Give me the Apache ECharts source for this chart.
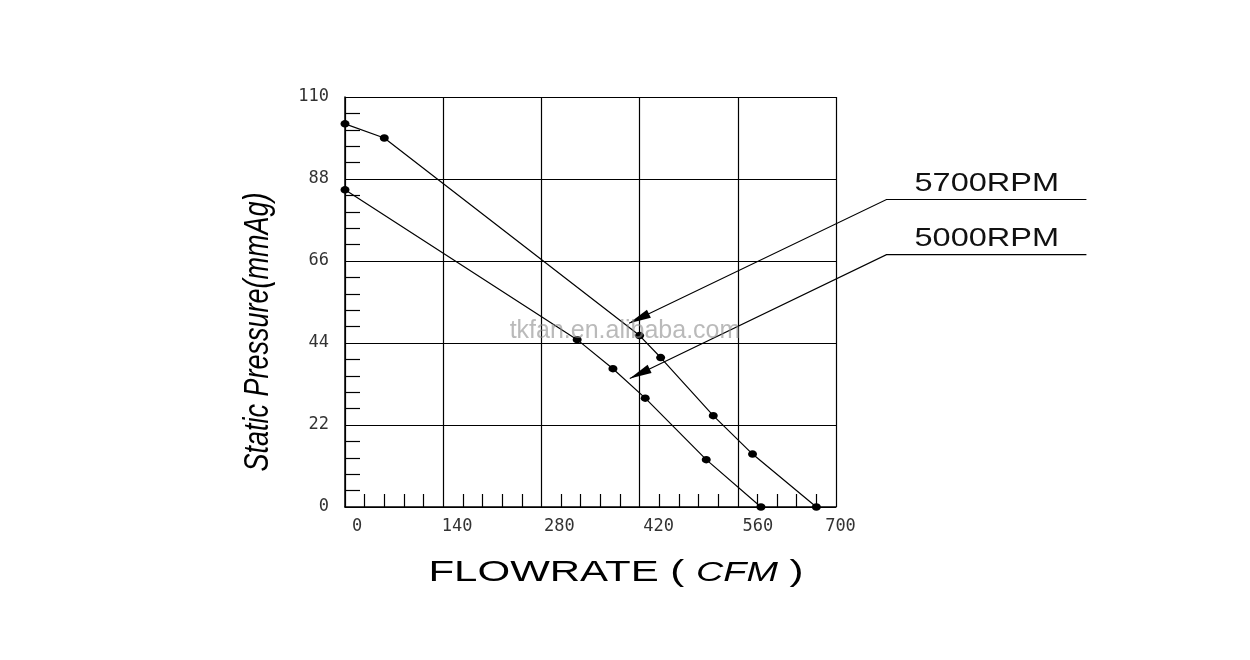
<!DOCTYPE html>
<html><head><meta charset="utf-8">
<script src="https://cdn.jsdelivr.net/npm/echarts@6/dist/echarts.min.js"></script>
<style>html,body{margin:0;padding:0;background:#fff}#c{width:1250px;height:660px}</style>
</head><body><div id="c"></div>
<script>
// ---- data ----
const xTicks = [0, 140, 280, 420, 560, 700];
const yTicks = [0, 22, 44, 66, 88, 110];
const seriesNames = ['5700RPM', '5000RPM'];
const rpm5700Flow = [0, 56, 420, 450, 525, 581, 672];
const rpm5700Pressure = [102.8, 99.0, 46.0, 40.1, 24.5, 14.2, 0];
const rpm5000Flow = [0, 331, 382, 428, 515, 593];
const rpm5000Pressure = [85.1, 44.9, 37.1, 29.2, 12.7, 0];
// annotation leader anchors in data units: tip, elbow, end
const ann5700 = [[405, 49.3], [772, 82.5], [1057, 82.5]];
const ann5000 = [[406, 34.5], [772, 67.7], [1057, 67.7]];
const xTitle = 'FLOWRATE';
const xUnit = 'CFM';
const yTitle = 'Static Pressure(mmAg)';
const watermark = 'tkfan.en.alibaba.com';

// ---- style ----
const labelShift = {0: 24, 140: 28, 280: 36, 420: 38, 560: 40, 700: 9};
const tickFont = {fontFamily: 'DejaVu Sans Mono', fontSize: 17, color: '#333'};
const xRich = {};
xTicks.forEach(v => { xRich['t' + v] = Object.assign({padding: [0, 0, 0, labelShift[v]]}, tickFont); });

const zip = (a, b) => a.map((v, i) => [v, b[i]]);
const chart = echarts.init(document.getElementById('c'), null, {renderer: 'canvas'});

const lineSeries = (name, data) => ({
  name, type: 'line', data, clip: false, z: 5,
  symbol: 'circle', symbolSize: [9, 7.5], showSymbol: true,
  lineStyle: {color: '#000', width: 1.2},
  itemStyle: {color: '#000'},
  emphasis: {disabled: true}
});

chart.setOption({
  animation: false,
  backgroundColor: '#fff',
  grid: {left: 345, top: 97, width: 491, height: 410, show: false},
  xAxis: {
    type: 'value', min: xTicks[0], max: xTicks[xTicks.length - 1], interval: 140,
    axisLine: {show: true, onZero: false, lineStyle: {color: '#000', width: 1.5}},
    axisTick: {show: false, inside: true},
    minorTick: {show: true, splitNumber: 5, length: 13, lineStyle: {color: '#000', width: 1.2}},
    splitLine: {show: true, lineStyle: {color: '#000', width: 1.2}},
    axisLabel: {margin: 11, formatter: v => '{t' + v + '|' + v + '}', rich: xRich},
  },
  yAxis: {
    type: 'value', min: yTicks[0], max: yTicks[yTicks.length - 1], interval: 22,
    axisLine: {show: true, lineStyle: {color: '#000', width: 1.5}},
    axisTick: {show: false, inside: true},
    minorTick: {show: true, splitNumber: 5, length: 15, lineStyle: {color: '#000', width: 1.2}},
    splitLine: {show: true, lineStyle: {color: '#000', width: 1.2}},
    axisLabel: Object.assign({margin: 16}, tickFont),
  },
  series: [
    lineSeries(seriesNames[0], zip(rpm5700Flow, rpm5700Pressure)),
    lineSeries(seriesNames[1], zip(rpm5000Flow, rpm5000Pressure))
  ]
});

function px(p) { return chart.convertToPixel({gridIndex: 0}, p); }
function annotation(anchors, label) {
  const [tip, elbow, end] = anchors.map(px);
  const dx = tip[0] - elbow[0], dy = tip[1] - elbow[1];
  const len = Math.hypot(dx, dy), ux = dx / len, uy = dy / len;
  const L = 22, W = 4.5;
  const bx = tip[0] - L * ux, by = tip[1] - L * uy;
  return [
    {type: 'polyline', z: 50, shape: {points: [tip, elbow, end]}, style: {stroke: '#000', lineWidth: 1.1, fill: null}},
    {type: 'polygon', z: 51, shape: {points: [tip, [bx - W * uy, by + W * ux], [bx + W * uy, by - W * ux]]}, style: {fill: '#000'}},
    {type: 'text', z: 52, x: elbow[0] + 28, y: elbow[1] - 3, scaleX: 1.3,
      style: {text: label, font: '25px "Liberation Sans"', fill: '#111', align: 'left', verticalAlign: 'bottom'}}
  ];
}

chart.setOption({
  graphic: [
    ...annotation(ann5700, seriesNames[0]),
    ...annotation(ann5000, seriesNames[1]),
    {type: 'text', z: 60, x: 616, y: 573, scaleX: 1.4,
      style: {text: '{n|' + xTitle + ' ( }{i|' + xUnit + '}{n| )}', align: 'center', verticalAlign: 'middle', fill: '#000',
        rich: {n: {font: '30px "Liberation Sans"', fill: '#000'}, i: {font: 'italic 27px "Liberation Sans"', fill: '#000'}}}},
    {type: 'text', z: 60, x: 258, y: 332, rotation: Math.PI / 2, scaleY: 1.3,
      style: {text: yTitle, font: 'italic 27px "Liberation Sans"', fill: '#000', align: 'center', verticalAlign: 'middle'}},
    {type: 'text', z: 100, x: 625, y: 331,
      style: {text: watermark, font: '25px "Liberation Sans"', fill: 'rgba(140,140,140,0.6)', align: 'center', verticalAlign: 'middle'}}
  ]
});
</script>
</body></html>
